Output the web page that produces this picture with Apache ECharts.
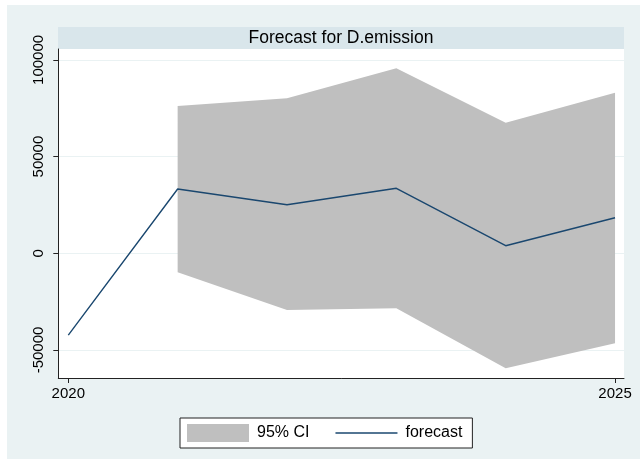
<!DOCTYPE html>
<html lang="en">
<head>
    <meta charset="UTF-8">
    <title>Forecast for D.emission</title>
    <script src="https://cdn.jsdelivr.net/npm/echarts@6/dist/echarts.min.js"></script>
    <style>
        body{
            margin: 0;
            background-color: #ffffff;
        }
        #main{
            position: absolute;
            left: 7px;
            top: 5px;
            width: 633px;
            height: 454px;
        }
    </style>
</head>
<body>
<div id="main"></div>
<script type="text/javascript">
    // data
    var years = [2020, 2021, 2022, 2023, 2024, 2025];
    var forecast = [-42300, 33260, 25130, 33620, 3900, 18400];
    var ciYears = [2021, 2022, 2023, 2024, 2025];
    var ciLower = [-9830, -29330, -28450, -59480, -46550];
    var ciUpper = [76180, 80170, 95650, 67500, 83000];
    var yTicks = [-50000, 0, 50000, 100000];
    var xTicks = [2020, 2025];

    var bandData = [];
    for (var i = 0; i < ciYears.length; i++) {
        bandData.push([ciYears[i], ciLower[i], ciUpper[i]]);
    }
    var lineData = [];
    for (var j = 0; j < years.length; j++) {
        lineData.push([years[j], forecast[j]]);
    }

    var font = '"Liberation Sans", Arial, Helvetica, sans-serif';
    var myChart = echarts.init(document.getElementById('main'));

    // CI band as one polygon: upper edge left->right, lower edge right->left
    function renderBand(params, api) {
        if (params.dataIndex !== 0) return;
        var pts = [];
        for (var k = 0; k < ciYears.length; k++) {
            pts.push(api.coord([ciYears[k], ciUpper[k]]));
        }
        for (var m = ciYears.length - 1; m >= 0; m--) {
            pts.push(api.coord([ciYears[m], ciLower[m]]));
        }
        return {
            type: 'polygon',
            shape: {points: pts},
            style: {fill: '#bfbfbf'}
        };
    }

    var option = {
        backgroundColor: '#eaf2f3',
        animation: false,
        graphic: [
            {
                type: 'rect',
                shape: {x: 51, y: 22, width: 566, height: 22},
                style: {fill: '#d9e6eb'},
                silent: true
            },
            {
                type: 'text',
                x: 334,
                y: 33,
                style: {
                    text: 'Forecast for D.emission',
                    font: '17.5px ' + font,
                    fill: '#000',
                    align: 'center',
                    verticalAlign: 'middle'
                },
                silent: true
            }
        ],
        grid: {
            left: 51.3,
            right: 16,
            top: 44,
            bottom: 81,
            show: true,
            backgroundColor: '#ffffff',
            borderWidth: 0
        },
        legend: {
            left: 173,
            top: 413,
            padding: [6, 10, 6, 7],
            itemWidth: 62,
            itemHeight: 18,
            itemGap: 26,
            backgroundColor: '#ffffff',
            borderColor: '#222',
            borderWidth: 1,
            borderRadius: 0,
            textStyle: {fontSize: 16, color: '#000', fontFamily: font, padding: [0, 0, 0, 3]},
            data: [
                {name: '95% CI', icon: 'rect'},
                {name: 'forecast', icon: 'path://M0,0 H60 V1.5 H0 Z'}
            ]
        },
        xAxis: {
            type: 'value',
            min: 2019.9085,
            max: 2025.082,
            axisLine: {show: true, onZero: false, lineStyle: {color: '#222', width: 1}},
            axisTick: {show: true, length: 5, customValues: xTicks, lineStyle: {color: '#222'}},
            axisLabel: {
                customValues: xTicks,
                formatter: function (v) { return String(v); },
                fontSize: 15,
                color: '#000',
                fontFamily: font,
                margin: 8
            },
            splitLine: {show: false}
        },
        yAxis: {
            type: 'value',
            min: -64500,
            max: 105650,
            splitNumber: 3,
            axisLine: {show: true, lineStyle: {color: '#222', width: 1}},
            axisTick: {show: true, length: 5, customValues: yTicks, lineStyle: {color: '#222'}},
            axisLabel: {
                customValues: yTicks,
                formatter: function (v) { return String(v); },
                rotate: 90,
                fontSize: 15,
                color: '#000',
                fontFamily: font,
                margin: 12
            },
            splitLine: {show: true, lineStyle: {color: '#eaf2f3', width: 1}}
        },
        series: [
            {
                name: '95% CI',
                type: 'custom',
                color: '#bfbfbf',
                renderItem: renderBand,
                encode: {x: 0, y: [1, 2]},
                data: bandData,
                z: 2
            },
            {
                name: 'forecast',
                type: 'line',
                symbol: 'none',
                color: '#1a476f',
                lineStyle: {color: '#1a476f', width: 1.4},
                data: lineData,
                z: 3
            }
        ]
    };

    myChart.setOption(option);
</script>
</body>
</html>
